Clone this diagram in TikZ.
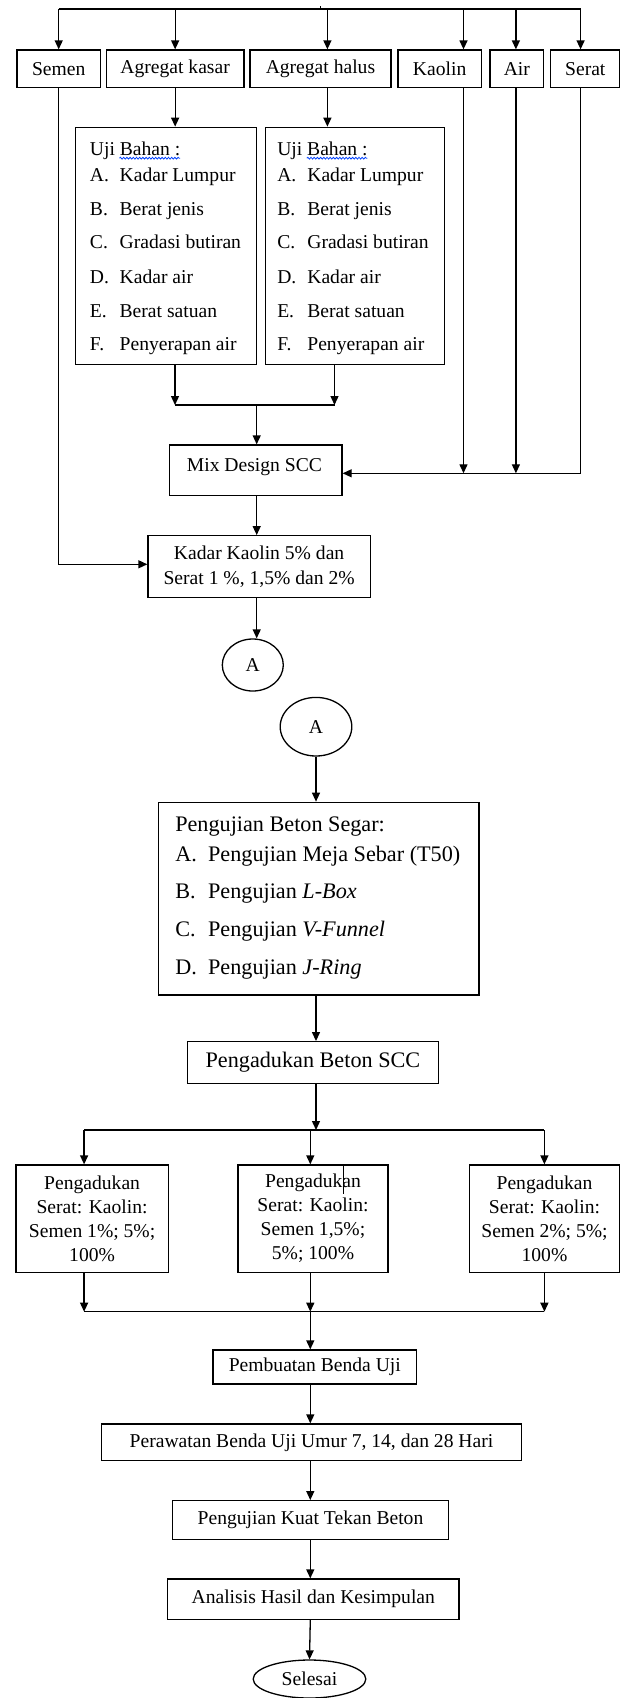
\documentclass[tikz,border=0pt]{standalone}
\usepackage{fontspec}
\setmainfont{Liberation Serif}
\usetikzlibrary{arrows.meta,shapes.geometric,decorations.pathmorphing}
\newcommand\fsA{\fontsize{19.6}{24}\selectfont}
\newcommand\fsK{\fontsize{19.6}{25}\selectfont}
\newcommand\fsB{\fontsize{22.2}{27}\selectfont}
\begin{document}
\begin{tikzpicture}[x=1pt,y=-1pt,line width=1.3pt,
  box/.style={draw,inner sep=0pt,align=center,font=\fsA},
  oval/.style={draw,ellipse,inner sep=0pt,font=\fsA},
  txt/.style={anchor=base west,inner sep=0pt,font=\fsA},
  txtB/.style={anchor=base west,inner sep=0pt,font=\fsB},
  arr/.style={-{Triangle[length=9pt,width=8pt]}},
  squiggle/.style={draw=blue!75!cyan,line width=0.8pt,decorate,decoration={snake,amplitude=0.9pt,segment length=3.2pt}}]
\useasboundingbox (0,0) rectangle (621,1698);

% ---------- top row ----------
\node[box,minimum width=83.3pt,minimum height=37.7pt] (semen) at (58.7,68.85) {Semen};
\node[box,minimum width=137.7pt,minimum height=37.7pt] (agk) at (175.15,68.85) {Agregat kasar};
\node[box,minimum width=140.9pt,minimum height=37.7pt] (agh) at (320.45,68.85) {Agregat halus};
\node[box,minimum width=83.3pt,minimum height=37.7pt] (kaolin) at (439.65,68.85) {Kaolin};
\node[box,minimum width=53.7pt,minimum height=37.7pt] (air) at (516.85,68.85) {Air};
\node[box,minimum width=69pt,minimum height=37.7pt] (serat) at (585.3,68.85) {Serat};

\coordinate (tl) at (58.7,9);
\coordinate (tr) at (580.6,9);
\coordinate (tm) at (320.6,9);
\coordinate (t3) at (327.4,9);
\coordinate (t4) at (463.5,9);
\coordinate (t5) at (515.9,9);
\draw (tl) -- (tr);
\draw[line width=1pt] (tm) -- ++(0,-3);
\draw[arr] (tl) -- (semen.north);
\draw[arr] (agk.north |- tl) -- (agk.north);
\draw[arr] (t3) -- (t3 |- agh.north);
\draw[arr] (t4) -- (t4 |- kaolin.north);
\draw[arr] (t5) -- (t5 |- air.north);
\draw[arr] (tr) -- (tr |- serat.north);

% ---------- Uji Bahan boxes ----------
\node[draw,inner sep=0pt,minimum width=181.3pt,minimum height=237pt] (ujiL) at (166.05,245.8) {};
\node[draw,inner sep=0pt,minimum width=178.9pt,minimum height=237pt] (ujiR) at (354.95,245.8) {};
\node[txt] (uL0) at (89.3,155) {Uji Bahan :};
\node[txt] (uR0) at (276.6,155) {Uji Bahan :};
\draw[squiggle] (119.5,158.2) -- (180,158.2);
\draw[squiggle] (306.8,158.2) -- (367.3,158.2);
\foreach \yy/\ll/\tt [count=\i] in {181.7/A./Kadar Lumpur,215/B./Berat jenis,248.3/C./Gradasi butiran,283.3/D./Kadar air,317.3/E./Berat satuan,350.7/F./Penyerapan air}{
  \node[txt] (uLl\i) at (89.3,\yy) {\ll};
  \node[txt] (uLt\i) at (119,\yy) {\tt};
  \node[txt] (uRl\i) at (276.6,\yy) {\ll};
  \node[txt] (uRt\i) at (306.7,\yy) {\tt};
}
\draw[arr] (agk.south) -- (agk.south |- ujiL.north);
\draw[arr] (t3 |- agh.south) -- (t3 |- ujiR.north);

% ---------- merge to Mix Design ----------
\node[draw,inner sep=0pt,minimum width=172.2pt,minimum height=50.7pt] (mix) at (255.9,470.35) {};
\node[anchor=base,inner sep=0pt,font=\fsA] (mixt) at (254.4,471.7) {Mix Design SCC};
\coordinate (m1) at (175,405);
\coordinate (m2) at (334.5,405);
\coordinate (m0) at (256.7,405);
\draw[arr] (m1 |- ujiL.south) -- (m1);
\draw[arr] (m2 |- ujiR.south) -- (m2);
\draw (m1) -- (m2);
\draw[arr] (m0) -- (m0 |- mix.north);

\coordinate (f0) at (580.6,473.3);
\draw[arr] (tr |- serat.south) -- (f0) -- (mix.east |- f0);
\draw[arr] (t4 |- kaolin.south) -- (t4 |- f0);
\draw[arr] (t5 |- air.south) -- (t5 |- f0);

% ---------- Kadar Kaolin ----------
\node[box,font=\fsK,minimum width=222.2pt,minimum height=62pt] (kadar) at (259.1,566.7) {Kadar Kaolin 5\% dan\\Serat 1 \%, 1,5\% dan 2\%};
\draw[arr] (m0 |- mix.south) -- (m0 |- kadar.north);
\coordinate (s0) at (58.7,564.3);
\draw[arr] (semen.south) -- (s0) -- (s0 -| kadar.west);

\node[oval,minimum width=61pt,minimum height=52pt] (a1) at (252.8,665) {A};
\draw[arr] (m0 |- kadar.south) -- (m0 |- a1.north);

% ---------- page 2 ----------
\node[oval,minimum width=71.6pt,minimum height=58.6pt] (a2) at (316,726.7) {A};
\node[draw,inner sep=0pt,minimum width=320.3pt,minimum height=192.7pt] (segar) at (318.85,898.65) {};
\node[txtB] (sg0) at (174.6,831.7) {Pengujian Beton Segar:};
\node[txtB] (sgl1) at (174.6,861.7) {A.};
\node[txtB] (sgt1) at (207.5,861.7) {Pengujian Meja Sebar (T50)};
\node[txtB] (sgl2) at (174.6,898.3) {B.};
\node[txtB] (sgt2) at (207.5,898.3) {Pengujian \textit{L-Box}};
\node[txtB] (sgl3) at (174.6,936) {C.};
\node[txtB] (sgt3) at (207.5,936) {Pengujian \textit{V-Funnel}};
\node[txtB] (sgl4) at (174.6,974) {D.};
\node[txtB] (sgt4) at (207.5,974) {Pengujian \textit{J-Ring}};
\draw[arr] (a2.south) -- (a2.south |- segar.north);

\node[box,font=\fsB,minimum width=251.2pt,minimum height=41.6pt] (scc) at (312.9,1062.5) {Pengadukan Beton SCC};
\draw[arr] (a2.south |- segar.south) -- (a2.south |- scc.north);

\coordinate (spL) at (84.1,1130);
\coordinate (spM) at (310.3,1130);
\coordinate (spR) at (544.4,1130);
\draw[arr] (a2.south |- scc.south) -- (a2.south |- spM);
\draw (spL) -- (spR);

\node[box,minimum width=152.4pt,minimum height=107.3pt] (b1) at (92.1,1218.65) {Pengadukan\\Serat: Kaolin:\\Semen 1\%; 5\%;\\100\%};
\node[box,minimum width=150pt,minimum height=107.3pt] (b2) at (313,1218.65) {Pengadukan\\Serat: Kaolin:\\Semen 1,5\%;\\5\%; 100\%};
\node[box,minimum width=150.6pt,minimum height=107.3pt] (b3) at (544.5,1218.65) {Pengadukan\\Serat: Kaolin:\\Semen 2\%; 5\%;\\100\%};
\draw[line width=1pt] ([xshift=30.3pt]b2.north) -- ++(0,30);
\draw[arr] (spL) -- (spL |- b1.north);
\draw[arr] (spM) -- (spM |- b2.north);
\draw[arr] (spR) -- (spR |- b3.north);

\coordinate (mgL) at (84.1,1311.7);
\coordinate (mgM) at (310.3,1311.7);
\coordinate (mgR) at (544.4,1311.7);
\draw[arr] (spL |- b1.south) -- (mgL);
\draw[arr] (spM |- b2.south) -- (mgM);
\draw[arr] (spR |- b3.south) -- (mgR);
\draw (mgL) -- (mgR);

\node[box,minimum width=203.7pt,minimum height=34pt] (pemb) at (314.85,1367) {Pembuatan Benda Uji};
\node[box,minimum width=420.6pt,minimum height=36.7pt] (peraw) at (311.5,1442.35) {Perawatan Benda Uji Umur 7, 14, dan 28 Hari};
\node[box,minimum width=275.8pt,minimum height=38.6pt] (kuat) at (310.5,1520) {Pengujian Kuat Tekan Beton};
\node[box,minimum width=291.6pt,minimum height=40.3pt] (anal) at (313.3,1599.15) {Analisis Hasil dan Kesimpulan};
\node[oval,minimum width=112.6pt,minimum height=38pt] (selesai) at (309.5,1679) {Selesai};

\draw[arr] (mgM) -- (mgM |- pemb.north);
\draw[arr] (mgM |- pemb.south) -- (mgM |- peraw.north);
\draw[arr] (mgM |- peraw.south) -- (mgM |- kuat.north);
\draw[arr] (mgM |- kuat.south) -- (mgM |- anal.north);
\draw[arr] (mgM |- anal.south) -- (selesai.north);
\end{tikzpicture}
\end{document}
